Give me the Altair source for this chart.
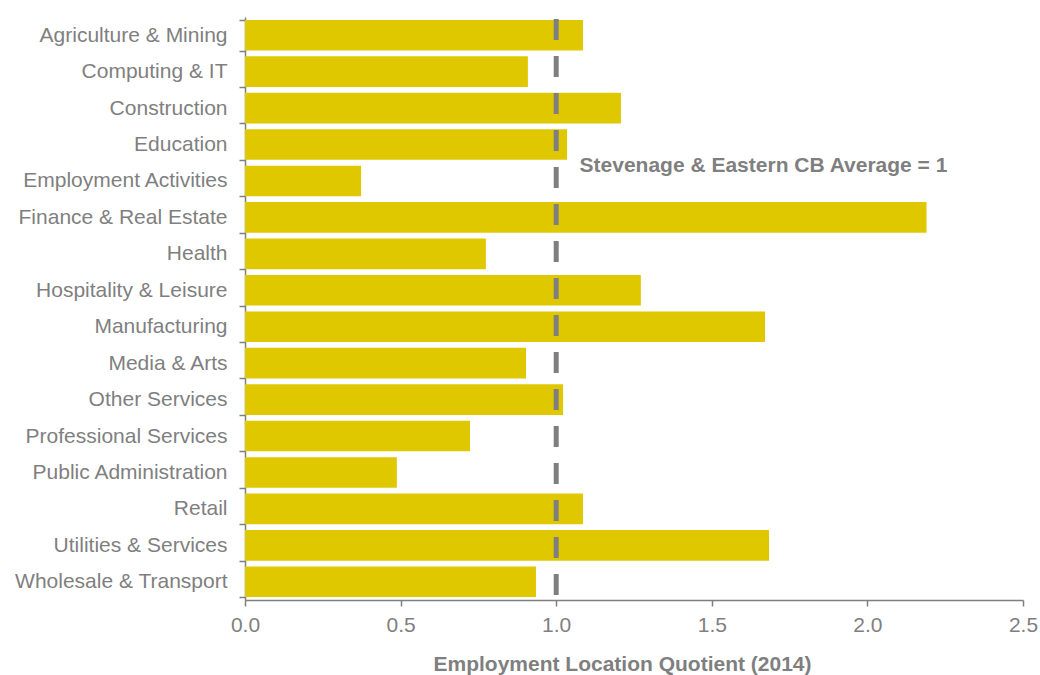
import altair as alt
import pandas as pd

categories = [
    "Agriculture & Mining", "Computing & IT", "Construction", "Education",
    "Employment Activities", "Finance & Real Estate", "Health",
    "Hospitality & Leisure", "Manufacturing", "Media & Arts", "Other Services",
    "Professional Services", "Public Administration", "Retail",
    "Utilities & Services", "Wholesale & Transport",
]
values = [1.086, 0.909, 1.208, 1.035, 0.373, 2.19, 0.774, 1.272, 1.671,
          0.903, 1.022, 0.723, 0.488, 1.086, 1.684, 0.935]
average = [1.0]
annotation = ["Stevenage & Eastern CB Average = 1"]
annotation_x = [1.075]
annotation_cat = ["Employment Activities"]

df = pd.DataFrame({"sector": categories, "lq": values})
avg_df = pd.DataFrame({"avg": average})
ann_df = pd.DataFrame({"text": annotation, "x": annotation_x, "sector": annotation_cat})

FONT = "Liberation Sans"
GREY = "#7f7f7f"
FS = 21

yscale = alt.Scale(domain=categories, paddingInner=0.16, paddingOuter=0.08)
xscale = alt.Scale(domain=[0, 2.5], nice=False)

bars = alt.Chart(df).mark_bar(color="#E0C800").encode(
    x=alt.X("lq:Q", scale=xscale,
            axis=alt.Axis(title="Employment Location Quotient (2014)",
                          values=[0, 0.5, 1.0, 1.5, 2.0, 2.5], format=".1f",
                          grid=False, domainColor=GREY, domainWidth=1.5,
                          tickColor=GREY, tickWidth=1.5, tickSize=6,
                          labelPadding=8, labelFontSize=FS, labelColor=GREY,
                          labelFont=FONT, labelFlush=False, labelOverlap=False,
                          titleFont=FONT, titleFontSize=FS,
                          titleColor=GREY, titleFontWeight="bold",
                          titlePadding=18, titleX=377)),
    y=alt.Y("sector:N", scale=yscale, sort=categories,
            axis=alt.Axis(title=None, tickBand="extent", domainColor=GREY,
                          domainWidth=1.5, tickColor=GREY, tickWidth=1.5,
                          tickSize=6, labelPadding=12, labelFontSize=FS,
                          labelColor=GREY, labelFont=FONT, labelLimit=400)),
)

rule = alt.Chart(avg_df).mark_rule(color=GREY, strokeWidth=5,
                                   strokeDash=[21, 16], strokeDashOffset=-2).encode(
    x=alt.X("avg:Q", scale=xscale)
)

text = alt.Chart(ann_df).mark_text(
    align="left", baseline="middle", font=FONT, fontSize=FS,
    fontWeight="bold", color=GREY, dy=-15
).encode(
    x=alt.X("x:Q", scale=xscale),
    y=alt.Y("sector:N", scale=yscale, sort=categories),
    text="text:N",
)

chart = alt.layer(bars, rule, text).properties(
    width=778, height=583,
    autosize=alt.AutoSizeParams(type="none"),
    padding={"left": 245, "top": 17, "right": 17, "bottom": 75},
).configure_view(stroke=None)

chart.save("out.html", embed_options={"renderer": "svg", "actions": False})
